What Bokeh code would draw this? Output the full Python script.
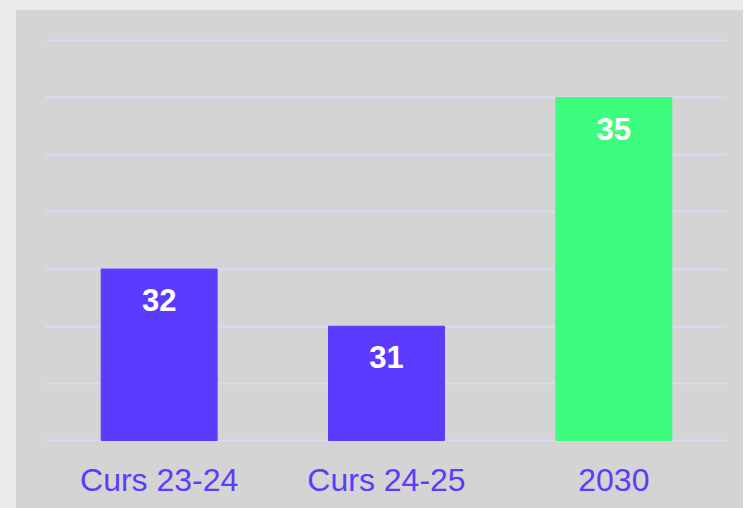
from bokeh.plotting import figure
from bokeh.models import ColumnDataSource, FixedTicker
from bokeh.layouts import column
from bokeh.embed import file_html
from bokeh.resources import INLINE
from bokeh.core.properties import value

categories = ["Curs 23-24", "Curs 24-25", "2030"]
values = [32, 31, 35]
colors = ["#5c3bff", "#5c3bff", "#3dfc7e"]
y_ticks = [29, 30, 31, 32, 33, 34, 35, 36]

src = ColumnDataSource(dict(cat=categories, val=values, color=colors,
                            lbl=[str(v) for v in values]))

p = figure(x_range=categories, y_range=(28.9825, 36.0175), width=727, height=498,
           output_backend="svg", toolbar_location=None,
           background_fill_color=None, border_fill_color=None,
           styles={"background-color": "#d4d4d4"},
           min_border_left=29, min_border_right=16, min_border_top=29,
           min_border_bottom=67, outline_line_color=None, margin=(10, 0, 0, 16))

p.vbar(x="cat", top="val", bottom=29, width=0.51, color="color", source=src)
p.text(x="cat", y="val", text="lbl", source=src, text_color="white",
       text_font=value("Liberation Sans"), text_font_style="bold",
       text_font_size="31px", text_align="center", text_baseline="middle",
       y_offset=31)

p.yaxis.visible = False
p.xgrid.visible = False
p.ygrid.ticker = FixedTicker(ticks=y_ticks)
p.ygrid.grid_line_color = "#ddd8f5"
p.ygrid.grid_line_width = 2
p.ygrid.level = "underlay"

ax = p.xaxis[0]
ax.axis_line_color = None
ax.major_tick_line_color = None
ax.minor_tick_line_color = None
ax.major_tick_out = 0
ax.major_label_standoff = 20
ax.major_label_text_font = "Liberation Sans"
ax.major_label_text_font_size = "32px"
ax.major_label_text_color = "#5c3bff"

layout = column(p, styles={"background-color": "#ebebeb"})

open("out.html", "w").write(file_html(layout, INLINE))
